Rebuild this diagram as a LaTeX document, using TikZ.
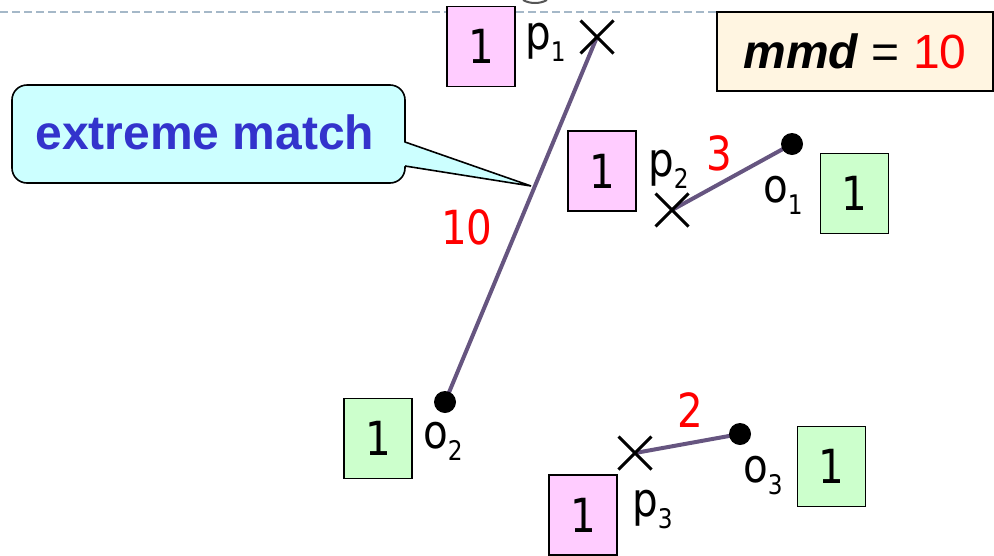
\documentclass[tikz,border=0pt]{standalone}
\usepackage{fontspec}
\usetikzlibrary{shapes.misc}
\newfontfamily\tah{DejaVu Sans}[FakeStretch=0.86]
\newfontfamily\arialf{Liberation Sans}
\definecolor{pinkbox}{HTML}{FFCCFF}
\definecolor{greenbox}{HTML}{CCFFCC}
\definecolor{linkc}{HTML}{665580}
\definecolor{calloutfill}{HTML}{CCFFFF}
\definecolor{callouttext}{HTML}{3333CC}
\definecolor{creamfill}{HTML}{FFF5E1}
\definecolor{dashc}{HTML}{A5B8C8}
\definecolor{arcc}{HTML}{555555}
\newcommand\bigf{\fontsize{47}{47}\selectfont}
\newcommand\subf{\fontsize{27}{27}\selectfont}
\newcommand\lbl[2]{{\tah\bigf #1\raisebox{-12pt}{\subf #2}}}
\begin{document}
\begin{tikzpicture}[x=1pt,y=-1pt,
  wbox/.style={draw=black,line width=1.6pt,minimum width=68pt,minimum height=80pt,inner sep=0pt,font=\tah\bigf},
  pbox/.style={wbox,fill=pinkbox},
  obox/.style={wbox,fill=greenbox},
  xmark/.style={cross out,draw=black,line width=3pt,minimum size=30pt,inner sep=0pt},
  dot/.style={circle,fill=black,minimum size=22pt,inner sep=0pt},
  link/.style={draw=linkc,line width=4pt},
  wt/.style={text=red,font=\tah\bigf,anchor=base,inner sep=0pt},
  lab/.style={anchor=base west,inner sep=0pt}]
\useasboundingbox (0,0) rectangle (994,555);
% top dashed rule and arc remnant
\coordinate (dl) at (0,12);
\coordinate (dr) at (994,12);
\draw[dashc,line width=1.5pt,dash pattern=on 8pt off 4pt] (dl) -- (dr);
\draw[arcc,line width=2pt] (523,0) .. controls (530,4) and (540,4) .. (547,0);
% point coordinates
\coordinate (p1) at (597,37);
\coordinate (p2) at (672,210);
\coordinate (p3) at (635,453);
\coordinate (o1) at (792,144);
\coordinate (o2) at (445,402);
\coordinate (o3) at (740,434);
% links
\draw[link] (p1) -- (o2);
\draw[link] (p2) -- (o1);
\draw[link] (p3) -- (o3);
% markers
\node[xmark] (p1m) at (p1) {};
\node[xmark] (p2m) at (p2) {};
\node[xmark] (p3m) at (p3) {};
\node[dot] (o1m) at (o1) {};
\node[dot] (o2m) at (o2) {};
\node[dot] (o3m) at (o3) {};
% weight boxes
\node[pbox] (b1) at (481,46.5) {1};
\node[pbox] (b2) at (602,171) {1};
\node[pbox] (b3) at (583,515) {1};
\node[obox] (c1) at (854.5,193.5) {1};
\node[obox] (c2) at (378,438.5) {1};
\node[obox] (c3) at (831.5,466.5) {1};
% labels
\node[lab] (lp1) at (525,49) {\lbl{p}{1}};
\node[lab] (lp2) at (648,176) {\lbl{p}{2}};
\node[lab] (lp3) at (632,516) {\lbl{p}{3}};
\node[lab] (lo1) at (763,202) {\lbl{o}{1}};
\node[lab] (lo2) at (423,448) {\lbl{o}{2}};
\node[lab] (lo3) at (743,482) {\lbl{o}{3}};
% distances
\node[wt] (w1) at (467,244) {10};
\node[wt] (w2) at (719,170) {3};
\node[wt] (w3) at (690,427) {2};
% callout
\filldraw[fill=calloutfill,draw=black,line width=1.6pt,rounded corners=15pt] (12,85) rectangle (405,183);
\fill[calloutfill] (403,142) -- (531,186) -- (403,166) -- cycle;
\coordinate (tip) at (531,186);
\coordinate (t1) at (405,142);
\coordinate (t2) at (405,166);
\draw[black,line width=1.6pt,line join=miter] (t1) -- (tip) -- (t2);
\node[anchor=base,inner sep=0pt,text=callouttext,font=\arialf\bfseries\fontsize{48}{48}\selectfont] (cl) at (205,149) {extreme match};
% mmd box
\node[draw=black,line width=1.6pt,fill=creamfill,minimum width=276pt,minimum height=79pt,inner sep=0pt,font=\arialf\fontsize{48}{48}\selectfont] (mmd) at (855,51.5) {{\bfseries\itshape mmd} = \textcolor{red}{10}};
\end{tikzpicture}
\end{document}
